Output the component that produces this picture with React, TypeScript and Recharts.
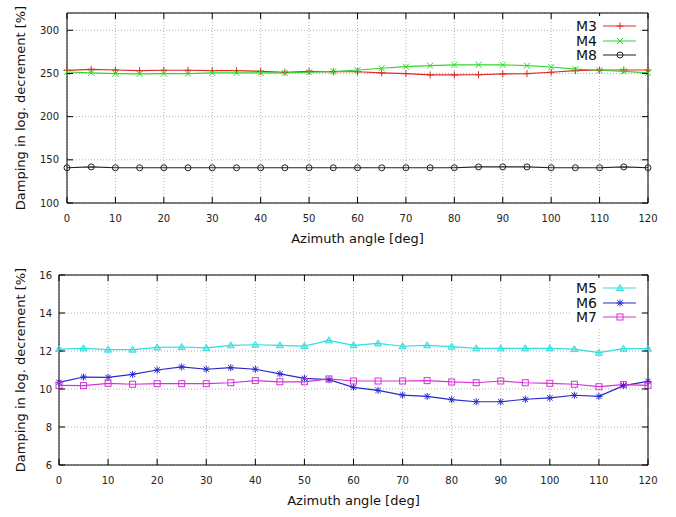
import React from "react"
import { LineChart, Line, XAxis, YAxis, CartesianGrid, Legend, ReferenceArea } from "recharts"

// azimuth angles, deg
const angles = [0, 5, 10, 15, 20, 25, 30, 35, 40, 45, 50, 55, 60, 65, 70, 75, 80, 85, 90, 95, 100, 105, 110, 115, 120]
const xTicks = [0, 10, 20, 30, 40, 50, 60, 70, 80, 90, 100, 110, 120]

// upper panel
const m3 = [253.5, 254.8, 254, 253.3, 253.7, 253.7, 253.3, 253.3, 252.5, 251.4, 252.5, 252, 252, 250.6, 249.8, 248.3, 248.3, 248.5, 249.4, 249.8, 251.4, 253.3, 254, 254, 254]
const m4 = [251.7, 250.6, 249.8, 249.5, 249.8, 249.8, 250.6, 250.6, 250.6, 250.6, 251.4, 252.2, 254, 256, 257.8, 259, 260, 260, 260, 259, 257.5, 255, 253.7, 252.5, 250.6]
const m8 = [140.8, 141.8, 140.8, 140.8, 140.8, 140.8, 140.8, 140.8, 140.8, 140.8, 140.8, 140.8, 140.8, 140.8, 140.8, 140.8, 140.8, 141.8, 141.8, 141.8, 140.8, 140.8, 140.8, 141.8, 140.8]
const topTicks = [100, 150, 200, 250, 300]

// lower panel
const m5 = [12.1, 12.14, 12.07, 12.07, 12.19, 12.21, 12.16, 12.3, 12.33, 12.3, 12.26, 12.56, 12.3, 12.4, 12.25, 12.3, 12.23, 12.14, 12.14, 12.14, 12.14, 12.1, 11.91, 12.12, 12.12]
const m6 = [10.35, 10.63, 10.61, 10.77, 11.0, 11.16, 11.04, 11.12, 11.04, 10.8, 10.56, 10.49, 10.09, 9.93, 9.68, 9.61, 9.44, 9.33, 9.33, 9.46, 9.53, 9.67, 9.61, 10.18, 10.4]
const m7 = [10.19, 10.18, 10.3, 10.25, 10.28, 10.28, 10.28, 10.33, 10.44, 10.38, 10.38, 10.53, 10.42, 10.42, 10.42, 10.44, 10.37, 10.33, 10.42, 10.33, 10.3, 10.25, 10.12, 10.23, 10.19]
const bottomTicks = [6, 8, 10, 12, 14, 16]

const FONT = "DejaVu Sans, sans-serif"
const W = 676

type Shape = "plus" | "cross" | "circle" | "triangle" | "star" | "square"
type Series = { name: string; color: string; shape: Shape }

const topSeries: Series[] = [
  { name: "M3", color: "#dd2a2a", shape: "plus" },
  { name: "M4", color: "#2ed82e", shape: "cross" },
  { name: "M8", color: "#222222", shape: "circle" },
]
const bottomSeries: Series[] = [
  { name: "M5", color: "#30dede", shape: "triangle" },
  { name: "M6", color: "#2a2acc", shape: "star" },
  { name: "M7", color: "#d632d6", shape: "square" },
]

const topData = angles.map((a, i) => ({ angle: a, M3: m3[i], M4: m4[i], M8: m8[i] }))
const bottomData = angles.map((a, i) => ({ angle: a, M5: m5[i], M6: m6[i], M7: m7[i] }))

function marker(shape: Shape, cx: number, cy: number, color: string) {
  const s = 3.5
  switch (shape) {
    case "plus":
      return (
        <g stroke={color} strokeWidth={1}>
          <line x1={cx - s} x2={cx + s} y1={cy} y2={cy} />
          <line x1={cx} x2={cx} y1={cy - s} y2={cy + s} />
        </g>
      )
    case "cross":
      return (
        <g stroke={color} strokeWidth={1}>
          <line x1={cx - 3} x2={cx + 3} y1={cy - 3} y2={cy + 3} />
          <line x1={cx - 3} x2={cx + 3} y1={cy + 3} y2={cy - 3} />
        </g>
      )
    case "circle":
      return <circle cx={cx} cy={cy} r={3} fill="none" stroke={color} strokeWidth={1} />
    case "triangle":
      return (
        <polygon
          points={`${cx},${cy - 3.5} ${cx - 3.5},${cy + 2.5} ${cx + 3.5},${cy + 2.5}`}
          fill={color}
          fillOpacity={0.45}
          stroke={color}
          strokeWidth={1}
        />
      )
    case "star":
      return (
        <g stroke={color} strokeWidth={1}>
          <line x1={cx - s} x2={cx + s} y1={cy} y2={cy} />
          <line x1={cx} x2={cx} y1={cy - s} y2={cy + s} />
          <line x1={cx - 2.7} x2={cx + 2.7} y1={cy - 2.7} y2={cy + 2.7} />
          <line x1={cx - 2.7} x2={cx + 2.7} y1={cy + 2.7} y2={cy - 2.7} />
        </g>
      )
    case "square":
      return <rect x={cx - 3} y={cy - 3} width={6} height={6} fill="none" stroke={color} strokeWidth={1} />
  }
}

type Box = { left: number; right: number; top: number; bottom: number }

const makeXTick = (box: Box) => (props: any) => {
  const { x, payload } = props
  return (
    <g>
      <line x1={x} x2={x} y1={box.bottom} y2={box.bottom - 6} stroke="#000" />
      <line x1={x} x2={x} y1={box.top} y2={box.top + 6} stroke="#000" />
      <text x={x} y={box.bottom + 15} dy="0.35em" textAnchor="middle" fontSize={10} fill="#222" fontFamily={FONT}>
        {payload.value}
      </text>
    </g>
  )
}

const makeYTick = (box: Box, gap: number) => (props: any) => {
  const { y, payload } = props
  return (
    <g>
      <line x1={box.left} x2={box.left + 6} y1={y} y2={y} stroke="#000" />
      <line x1={box.right} x2={box.right - 6} y1={y} y2={y} stroke="#000" />
      <text x={box.left - gap} y={y} dy="0.35em" textAnchor="end" fontSize={10} fill="#222" fontFamily={FONT}>
        {payload.value}
      </text>
    </g>
  )
}

const makeLegend = (series: Series[]) => () => (
  <div style={{ background: "#fff", padding: "3px 4px 3px 0", width: 70, boxSizing: "border-box" }}>
    {series.map((s) => (
      <div key={s.name} style={{ display: "flex", alignItems: "center", height: 14.5 }}>
        <span style={{ width: 27, textAlign: "right", fontSize: 14, fontFamily: FONT, color: "#111", lineHeight: "14px" }}>
          {s.name}
        </span>
        <svg width={39} height={14}>
          <line x1={6} x2={39} y1={7} y2={7} stroke={s.color} strokeWidth={1.2} />
          {marker(s.shape, 23, 7, s.color)}
        </svg>
      </div>
    ))}
  </div>
)

type PanelProps = {
  data: any[]
  series: Series[]
  height: number
  margin: { top: number; right: number; left: number; bottom: number }
  yWidth: number
  yDomain: [number, number]
  yTicks: number[]
  yGap: number
  legendTop: number
}

const Panel = ({ data, series, height, margin, yWidth, yDomain, yTicks, yGap, legendTop }: PanelProps) => {
  const xAxisHeight = 35
  const box: Box = {
    left: margin.left + yWidth,
    right: W - margin.right,
    top: margin.top,
    bottom: height - margin.bottom - xAxisHeight,
  }
  const cx = (box.left + box.right) / 2
  const cy = (box.top + box.bottom) / 2
  return (
    <LineChart width={W} height={height} data={data} margin={margin}>
      <CartesianGrid stroke="#a0a0a0" strokeDasharray="1 2" strokeWidth={0.8} />
      <XAxis
        type="number"
        dataKey="angle"
        domain={[0, 120]}
        ticks={xTicks}
        height={xAxisHeight}
        tickSize={0}
        tickMargin={10}
        axisLine={false}
        tick={makeXTick(box)}
        interval={0}
        label={{
          content: () => (
            <text x={cx} y={box.bottom + 35} dy="0.35em" textAnchor="middle" fontSize={13} fill="#111" fontFamily={FONT}>
              Azimuth angle [deg]
            </text>
          ),
        }}
      />
      <YAxis
        type="number"
        domain={yDomain}
        ticks={yTicks}
        width={yWidth}
        tickSize={0}
        tickMargin={yGap}
        axisLine={false}
        tick={makeYTick(box, yGap)}
        interval={0}
        allowDataOverflow
        label={{
          content: () => (
            <text
              x={20}
              y={cy}
              dy="0.35em"
              textAnchor="middle"
              fontSize={13}
              fill="#111"
              fontFamily={FONT}
              transform={`rotate(-90 20 ${cy})`}
            >
              Damping in log. decrement [%]
            </text>
          ),
        }}
      />
      <Legend
        layout="vertical"
        align="center"
        verticalAlign="middle"
        content={makeLegend(series)}
        wrapperStyle={{ top: legendTop, left: 570, width: 70 }}
      />
      {series.map((s) => (
        <Line
          key={s.name}
          type="linear"
          dataKey={s.name}
          name={s.name}
          stroke={s.color}
          strokeWidth={1.2}
          isAnimationActive={false}
          dot={(p: any) => <g key={`${s.name}-${p.index}`}>{marker(s.shape, p.cx, p.cy, s.color)}</g>}
          activeDot={false}
        />
      ))}
      <ReferenceArea
        x1={0}
        x2={120}
        y1={yDomain[0]}
        y2={yDomain[1]}
        fill="none"
        stroke="#000"
        strokeWidth={1}
        ifOverflow="visible"
      />
    </LineChart>
  )
}

const App = () => {
  return (
    <div style={{ width: W, background: "#fff", position: "relative" }}>
      <style>{`body{margin:0;background:#fff}`}</style>
      <Panel
        data={topData}
        series={topSeries}
        height={252}
        margin={{ top: 13, right: 28, left: 0, bottom: 14 }}
        yWidth={67}
        yDomain={[100, 320]}
        yTicks={topTicks}
        yGap={8}
        legendTop={16}
      />
      <Panel
        data={bottomData}
        series={bottomSeries}
        height={265}
        margin={{ top: 23, right: 28, left: 0, bottom: 17 }}
        yWidth={59}
        yDomain={[6, 16]}
        yTicks={bottomTicks}
        yGap={7}
        legendTop={26}
      />
    </div>
  )
}

export default App
